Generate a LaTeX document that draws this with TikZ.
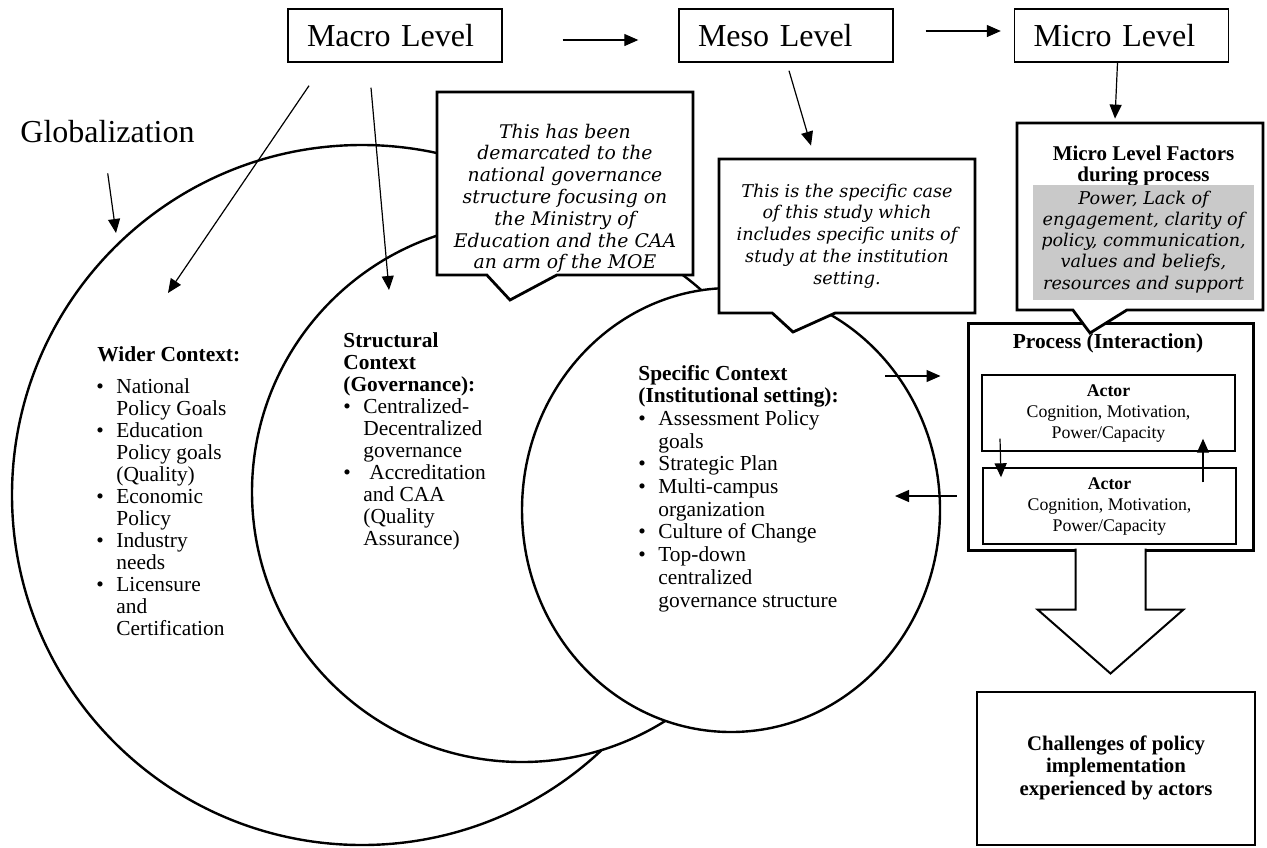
\documentclass[tikz,border=0pt]{standalone}
\usepackage{fontspec}
\setmainfont{Liberation Serif}
\newfontfamily\callfont{DejaVu Serif}
\usepackage{tikz}
\usetikzlibrary{shapes.geometric, shapes.callouts, arrows.meta, positioning, calc}
\usepackage{xcolor}
\definecolor{LineBlack}{HTML}{000000}
\definecolor{FactorGray}{HTML}{C9C9C9}
\definecolor{PaperWhite}{HTML}{FFFFFF}

% text helpers
\newcommand{\blist}[1]{\begin{tabular}[t]{@{}p{10pt}@{}l@{}}#1\end{tabular}}
\newcommand{\clines}[1]{\begin{tabular}[t]{@{}c@{}}#1\end{tabular}}
\newcommand{\hd}[1]{\multicolumn{2}{@{}l@{}}{\textbf{#1}}}
\newcommand{\bodysize}{\fontsize{10.7}{11}\selectfont}

\tikzset{
    % Node styles
    levelbox/.style={
        rectangle,
        draw=LineBlack,
        fill=PaperWhite,
        line width=0.7pt,
        minimum height=26.5pt,
        inner xsep=9.5pt,
        text width=88pt,
        align=left,
        font=\fontsize{16}{18}\selectfont
    },
    ring/.style={
        circle,
        draw=LineBlack,
        fill=PaperWhite,
        line width=1.2pt,
        inner sep=0pt
    },
    specring/.style={
        ellipse,
        draw=LineBlack,
        fill=PaperWhite,
        line width=1.2pt,
        inner sep=0pt
    },
    callbox/.style={
        rectangle callout,
        draw=LineBlack,
        fill=PaperWhite,
        line width=1.4pt,
        inner sep=0pt
    },
    calltext/.style={
        inner sep=0pt,
        anchor=base,
        font=\callfont\itshape\fontsize{8.8}{10.9}\selectfont
    },
    textblock/.style={
        inner sep=0pt,
        anchor=base west,
        font=\bodysize
    },
    factorfill/.style={
        rectangle,
        fill=FactorGray,
        inner sep=0pt,
        minimum width=110.5pt,
        minimum height=57.5pt,
        font=\callfont\itshape\fontsize{8.8}{10.6}\selectfont
    },
    procbox/.style={
        rectangle,
        draw=LineBlack,
        fill=PaperWhite,
        line width=1.5pt,
        inner sep=0pt
    },
    actorbox/.style={
        rectangle,
        draw=LineBlack,
        fill=PaperWhite,
        line width=0.7pt,
        minimum width=126.5pt,
        minimum height=38pt,
        inner sep=0pt,
        font=\fontsize{8.9}{10.5}\selectfont
    },
    resultbox/.style={
        rectangle,
        draw=LineBlack,
        fill=PaperWhite,
        line width=1.4pt,
        inner sep=0pt,
        font=\bfseries\fontsize{10.4}{11.2}\selectfont
    },
    % Arrow styles
    arr/.style={
        -{Triangle[length=7pt,width=6pt]},
        line width=0.6pt,
        LineBlack
    },
    blockline/.style={
        line width=1pt,
        LineBlack,
        line join=miter
    }
}

\begin{document}
\begin{tikzpicture}[x=0.5pt, y=-0.5pt]
    \useasboundingbox (0,0) rectangle (1267,847);

    % Context rings
    \node[ring, minimum size=350pt] (outer) at (362,495) {};
    \node[ring, minimum size=270pt] (middle) at (522,492) {};
    \node[specring, minimum width=209pt, minimum height=222pt] (inner) at (731,510) {};

    % Ring contents
    \node[textblock] (widerhead) at (97,361) {\textbf{Wider Context:}};
    \node[textblock] (widerlist) at (96,393) {\blist{\textbullet & National\\ & Policy Goals\\ \textbullet & Education\\ & Policy goals\\ & (Quality)\\ \textbullet & Economic\\ & Policy\\ \textbullet & Industry\\ & needs\\ \textbullet & Licensure\\ & and\\ & Certification}};
    \node[textblock] (structlist) at (343,347) {\blist{\hd{Structural}\\ \hd{Context}\\ \hd{(Governance):}\\ \textbullet & Centralized-\\ & Decentralized\\ & governance\\ \textbullet & \hspace{3pt}Accreditation\\ & and CAA\\ & (Quality\\ & Assurance)}};
    \node[textblock, font=\fontsize{10.7}{11.35}\selectfont] (speclist) at (638,380) {\blist{\hd{Specific Context}\\ \hd{(Institutional setting):}\\ \textbullet & Assessment Policy\\ & goals\\ \textbullet & Strategic Plan\\ \textbullet & Multi-campus\\ & organization\\ \textbullet & Culture of Change\\ \textbullet & Top-down\\ & centralized\\ & governance structure}};

    % Callouts
    \node[callbox, minimum width=128pt, minimum height=91.5pt, callout pointer width=35pt, callout absolute pointer={(510,300)}] (demarc) at (565,183.5) {};
    \node[calltext, font=\callfont\itshape\fontsize{9.4}{10.9}\selectfont] (demarctext) at (565,138) {\clines{This has been\\ demarcated to the\\ national governance\\ structure focusing on\\ the Ministry of\\ Education and the CAA\\ an arm of the MOE}};
    \node[callbox, minimum width=128pt, minimum height=77pt, callout pointer width=31.5pt, callout absolute pointer={(793,332)}] (spec) at (847,236) {};
    \node[calltext] (spectext) at (847,197) {\clines{This is the specific case\\ of this study which\\ includes specific units of\\ study at the institution\\ setting.}};

    % Process side
    \node[procbox, minimum width=142.5pt, minimum height=113.5pt] (process) at (1110.5,436.5) {};
    \node[inner sep=0pt, anchor=base, font=\bfseries\fontsize{10.7}{12}\selectfont] (prochead) at (1108,348) {Process (Interaction)};
    \node[actorbox] (actorA) at (1108.5,413) {\clines{\textbf{Actor}\\ Cognition, Motivation,\\ Power/Capacity}};
    \node[actorbox] (actorB) at (1109.5,506) {\clines{\textbf{Actor}\\ Cognition, Motivation,\\ Power/Capacity}};

    \node[callbox, minimum width=123pt, minimum height=93.5pt, callout pointer width=27pt, callout absolute pointer={(1090,333)}] (factor) at (1140,216.5) {};
    \node[inner sep=0pt, anchor=base, font=\bfseries\fontsize{10.5}{10.5}\selectfont] (factorhead) at (1143.5,160) {\clines{Micro Level Factors\\ during process}};
    \node[factorfill] (factorlist) at (1143.5,242.5) {\clines{Power, Lack of\\ engagement, clarity of\\ policy, communication,\\ values and beliefs,\\ resources and support}};

    % Block arrow to outcome
    \fill[PaperWhite] ([xshift=-17.5pt,yshift=1.5pt]process.south) -- ++(0,61) -- ++(-38,0) -- ++(73,64) -- ++(73,-64) -- ++(-38,0) -- ++(0,-61) -- cycle;
    \draw[blockline] ([xshift=-17.5pt,yshift=1.5pt]process.south) -- ++(0,61) -- ++(-38,0) -- ++(73,64) -- ++(73,-64) -- ++(-38,0) -- ++(0,-61);
    \node[resultbox, minimum width=139pt, minimum height=76.5pt] (challenge) at (1116,768.5) {\clines{Challenges of policy\\ implementation\\ experienced by actors}};

    % Levels
    \node[levelbox] (macro) at (395,35.5) {Macro Level};
    \node[levelbox] (meso) at (786,35.5) {Meso Level};
    \node[levelbox] (micro) at (1121.5,35.5) {Micro Level};
    \node[inner sep=0pt, anchor=base west, font=\fontsize{16}{18}\selectfont] (glob) at (20,142) {Globalization};

    % Connectors
    \coordinate (globtip) at (116,233);
    \coordinate (widertip) at (168,293);
    \coordinate (structtip) at (389,290);
    \coordinate (specout) at (885,376);
    \coordinate (specin) at (895,496);
    \draw[arr, shorten <=30pt, shorten >=20pt] ([yshift=-2.25pt]macro.east) -- ([yshift=-2.25pt]meso.west);
    \draw[arr, shorten <=16pt, shorten >=6.5pt] ([yshift=2.25pt]meso.east) -- ([yshift=2.25pt]micro.west);
    \draw[arr, shorten <=15.5pt] ([xshift=-2pt]glob.south) -- (globtip);
    \draw[arr] ([shift={(-86,23)}]macro.south) -- (widertip);
    \draw[arr] ([shift={(-24,25)}]macro.south) -- (structtip);
    \draw[arr] ([shift={(3,8)}]meso.south) -- ([shift={(-36,-12)}]spec.north);
    \draw[arr] ([xshift=-2pt]micro.south) -- ([shift={(-25,-3)}]factor.north);
    \draw[arr, shorten >=13pt] (specout) -- (specout -| process.west);
    \draw[arr, shorten <=5pt] (specin -| process.west) -- (specin);
    \draw[arr] ([shift={(-108.5,-13)}]actorA.south) -- ([shift={(-108.5,10)}]actorB.north);
    \draw[arr] ([shift={(93.5,15)}]actorB.north) -- ([shift={(94.5,-13)}]actorA.south);
\end{tikzpicture}
\end{document}
